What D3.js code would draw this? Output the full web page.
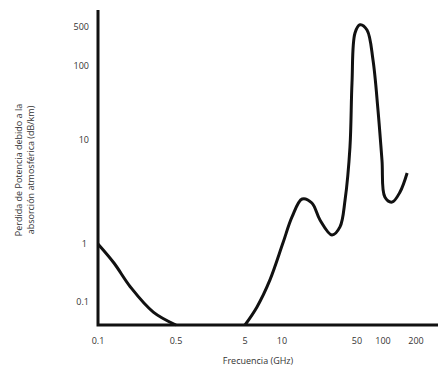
<!DOCTYPE html>
<html>
<head>
<meta charset="utf-8">
<script src="https://cdn.jsdelivr.net/npm/d3@7"></script>
<style>
  body { margin: 0; background: #fff; }
  text { font-family: "Open Sans", "DejaVu Sans", sans-serif; fill: #333; }
</style>
</head>
<body>
<div class="c_chart"></div>
<script>
/* DATA
------------------------------------------------------ */
// tick labels (the axes are hand drawn, so ticks are not evenly spaced)
const xTicks = [0.1, 0.5, 5, 10, 50, 100, 200];
const yTicks = [500, 100, 10, 1, 0.1];

// frequency (GHz) and loss (dB/km)
const freq = [0.1, 0.139, 0.196, 0.313, 0.5, 5, 6.26, 7.98, 10.2, 12.4, 15.4, 19.0,
  22.6, 29.2, 34.7, 38.7, 43.0, 44.9, 47.9, 54.2, 65.3, 76.6, 87.5, 97.3, 104, 121, 143, 166];
const loss = [1, 0.47, 0.18, 0.067, 0.04, 0.04, 0.082, 0.24, 1.02, 1.82, 2.71, 2.48,
  1.70, 1.22, 1.46, 2.65, 8.57, 58.9, 391, 543, 442, 128, 25.4, 6.42, 2.83, 2.53, 3.16, 4.81];

/* SVG
------------------------------------------------------ */
const width = 438, height = 383;
const plot = {left: 98, right: 438, top: 10, bottom: 325};

let svg = d3.select(".c_chart")
  .append("svg")
  .attr("width", width)
  .attr("height", height);

/* SCALES : piecewise log, matched to where the labels sit */
let xLog = d3.scaleLinear()
  .domain(xTicks.map(Math.log10))
  .range([98, 176, 245, 282, 357, 383, 416]);
let x = v => xLog(Math.log10(v));

let yLog = d3.scaleLinear()
  .domain([Math.log10(930), ...yTicks.map(Math.log10), Math.log10(0.04)])
  .range([plot.top, 27, 66, 140, 244, 302, plot.bottom]);
let y = v => yLog(Math.log10(v));

/* LINE : the curve lies on the x axis between 0.5 and 5 GHz,
   so it is drawn as two pieces on either side of that stretch
------------------------------------------------------ */
let line = d3.line()
  .x(d => x(d[0]))
  .y(d => y(d[1]))
  .curve(d3.curveCatmullRom.alpha(0.5));

let points = d3.zip(freq, loss);
let pieces = [points.filter(d => d[0] <= 0.5), points.filter(d => d[0] >= 5)];

svg.selectAll(".curve")
  .data(pieces)
  .enter()
  .append("path")
  .attr("class", "curve")
  .attr("d", line)
  .attr("fill", "none")
  .attr("stroke", "#111")
  .attr("stroke-width", 3)
  .attr("stroke-linejoin", "round");

/* AXES
------------------------------------------------------ */
svg.append("path")
  .attr("d", `M${plot.left},${plot.top}V${plot.bottom}H${plot.right}`)
  .attr("fill", "none")
  .attr("stroke", "#111")
  .attr("stroke-width", 3);

svg.selectAll(".xlab")
  .data(xTicks)
  .enter()
  .append("text")
  .attr("class", "xlab")
  .attr("x", d => x(d))
  .attr("y", 344)
  .attr("text-anchor", "middle")
  .attr("font-size", 9)
  .text(d => d);

svg.selectAll(".ylab")
  .data(yTicks)
  .enter()
  .append("text")
  .attr("class", "ylab")
  .attr("x", d => d === 1 ? 87 : 89)
  .attr("y", d => y(d) + 3)
  .attr("text-anchor", "end")
  .attr("font-size", 9)
  .text(d => d);

svg.append("text")
  .attr("x", 258)
  .attr("y", 364)
  .attr("text-anchor", "middle")
  .attr("font-size", 9)
  .text("Frecuencia (GHz)");

let ytitle = svg.append("text")
  .attr("transform", "translate(22,170) rotate(-90)")
  .attr("text-anchor", "middle")
  .attr("font-size", 9);
ytitle.append("tspan").attr("x", 0).attr("dy", 0).text("Perdida de Potencia debido a la");
ytitle.append("tspan").attr("x", 0).attr("dy", 12).text("absorción atmosférica (dB/km)");
</script>
</body>
</html>
